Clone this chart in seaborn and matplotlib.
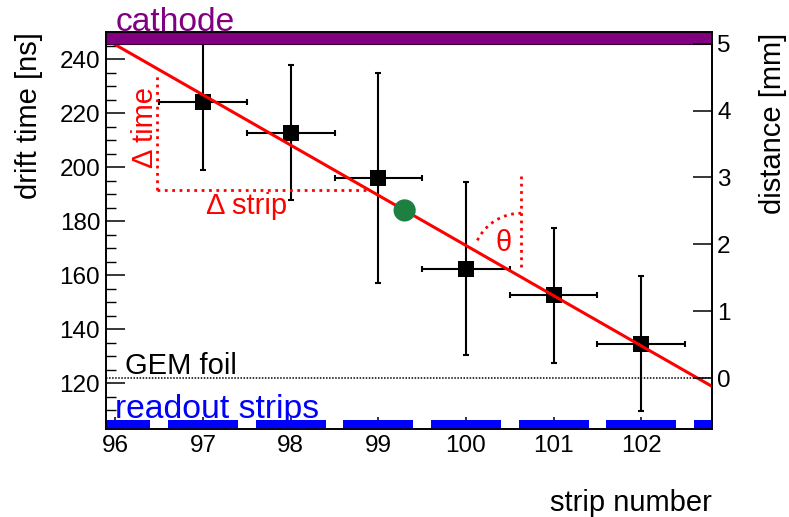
import numpy as np
import matplotlib
matplotlib.use("Agg")
import matplotlib.pyplot as plt
import matplotlib.transforms as mtransforms
from matplotlib.ticker import MultipleLocator
import seaborn as sns

# measured cluster: mean drift time per strip
strips = [97, 98, 99, 100, 101, 102]
drift_time = [224.0, 212.8, 196.0, 162.4, 152.6, 134.6]
time_err = [25.0, 25.0, 39.0, 32.0, 25.0, 25.0]
strip_err = [0.5, 0.5, 0.5, 0.5, 0.5, 0.5]

# straight-line track fit  t = intercept + slope * strip
fit_slope = -18.6
fit_intercept = 2031.0

# reconstructed track position (centre of gap)
cluster_strip = 99.3
cluster_time = 184.0

# detector geometry in drift-time units
gem_time = 121.8
cathode_time = 245.8
gap_mm = 5.0

readout_pads = [96, 97, 98, 99, 100, 101, 102, 103]
pad_width = 0.8
pad_top = 106.5

x_range = (95.89, 102.81)
t_range = (103.0, 250.0)
strip_ticks = [96, 97, 98, 99, 100, 101, 102]
time_ticks = [120, 140, 160, 180, 200, 220, 240]
distance_ticks = [0, 1, 2, 3, 4, 5]

sns.set_theme(style="ticks", rc={
    "axes.edgecolor": "black", "xtick.color": "black", "ytick.color": "black",
    "text.color": "black", "axes.labelcolor": "black",
})
plt.rcParams["font.family"] = ["Liberation Sans", "DejaVu Sans"]

RED = "#ff0000"
TICK_FS = 17.5
fig = plt.figure(figsize=(7.89, 5.17), dpi=100)
ax = fig.add_axes([0.134, 0.1702, 0.7688, 0.7673])
ax.set_axisbelow(True)


def to_mm(t):
    return (t - gem_time) / (cathode_time - gem_time) * gap_mm


# readout strips along the bottom
ax.bar(readout_pads, pad_top - t_range[0], bottom=t_range[0], width=pad_width,
       color="#0000ff", linewidth=0, zorder=3)

# cathode plane
ax.axhspan(cathode_time, t_range[1], facecolor="#800080", edgecolor="#3a003a",
           linewidth=0.8, zorder=8)

# GEM foil
ax.axhline(gem_time, color="black", linestyle=(0, (1, 1)), linewidth=1.1, zorder=2)

# data with errors
ax.errorbar(strips, drift_time, xerr=strip_err, yerr=time_err, fmt="none",
            ecolor="black", elinewidth=1.5, capsize=2, capthick=1.5, zorder=3)
sns.scatterplot(x=strips, y=drift_time, marker="s", s=12 ** 2, color="black",
                edgecolor="black", linewidth=0, ax=ax, zorder=4, legend=False)

# track fit
xs = np.array(x_range)
sns.lineplot(x=xs, y=fit_intercept + fit_slope * xs, color=RED, linewidth=2.2,
             ax=ax, zorder=5, legend=False)

sns.scatterplot(x=[cluster_strip], y=[cluster_time], s=16 ** 2, color="#1e8040",
                edgecolor="none", ax=ax, zorder=7, legend=False)

# slope construction: delta strip / delta time
dot = dict(color=RED, linestyle=":", linewidth=2, zorder=4)
d_strip0, d_time0, d_time1 = 96.48, 191.7, 234.5
ax.plot([d_strip0, d_strip0], [d_time0, d_time1], **dot)
ax.plot([d_strip0, (d_time0 - fit_intercept) / fit_slope], [d_time0, d_time0], **dot)
ax.text(96.431, 214.9, "Δ time", rotation=90, rotation_mode="anchor",
        ha="center", va="baseline", color=RED, fontsize=21)
ax.text(97.50, 182.5, "Δ strip", ha="center", va="baseline", color=RED, fontsize=21)

# track angle to the drift direction
th_strip = 100.63
ax.plot([th_strip, th_strip], [163.0, 196.9], **dot)
ang = np.radians(np.linspace(90, 155, 40))
r_in = 0.49
arc_trans = fig.dpi_scale_trans + mtransforms.ScaledTranslation(th_strip, 164.8, ax.transData)
ax.plot(r_in * np.cos(ang), r_in * np.sin(ang), transform=arc_trans, **dot)
ax.text(100.427, 168.9, "θ", ha="center", va="baseline", color=RED, fontsize=21)

# labels of detector parts
ax.text(0.017, 1.003, "cathode", transform=ax.transAxes, color="#800080",
        fontsize=24.2, ha="left", va="baseline", zorder=9)
ax.text(96.0, 107.1, "readout strips", color="#0000ff", fontsize=24.3,
        ha="left", va="baseline", zorder=9)
ax.text(96.108, 123.4, "GEM foil", color="black", fontsize=21,
        ha="left", va="baseline", zorder=9)

# axes
ax.set_xlim(*x_range)
ax.set_ylim(*t_range)
ax.set_xticks(strip_ticks)
ax.set_yticks(time_ticks)
ax.yaxis.set_minor_locator(MultipleLocator(5))
ax.tick_params(axis="y", which="major", direction="in", length=13.7, width=1.1,
               labelsize=TICK_FS, pad=4, right=False)
ax.tick_params(axis="y", which="minor", direction="in", length=7.2, width=1.0, right=False)
ax.tick_params(axis="x", which="major", direction="in", length=8.6, width=1.1,
               labelsize=TICK_FS, pad=4.0, top=False)
for sp in ax.spines.values():
    sp.set_linewidth(1.2)
    sp.set_color("black")

ax.set_ylabel("drift time [ns]", fontsize=21, loc="top")
ax.yaxis.set_label_coords(-0.1034, 1.0)
ax.set_xlabel("strip number", fontsize=21, loc="right")
ax.xaxis.set_label_coords(1.0, -0.151)

ax2 = ax.twinx()
ax2.set_ylim(to_mm(t_range[0]), to_mm(t_range[1]))
ax2.set_yticks(distance_ticks)
ax2.tick_params(axis="y", direction="in", length=13.7, width=1.1,
                labelsize=TICK_FS, pad=3.4)
for sp in ax2.spines.values():
    sp.set_linewidth(1.2)
    sp.set_color("black")
ax2.set_ylabel("distance [mm]", fontsize=21, loc="top")
ax2.yaxis.set_label_coords(1.077, 1.0)

fig.savefig("out.png", dpi=100)
